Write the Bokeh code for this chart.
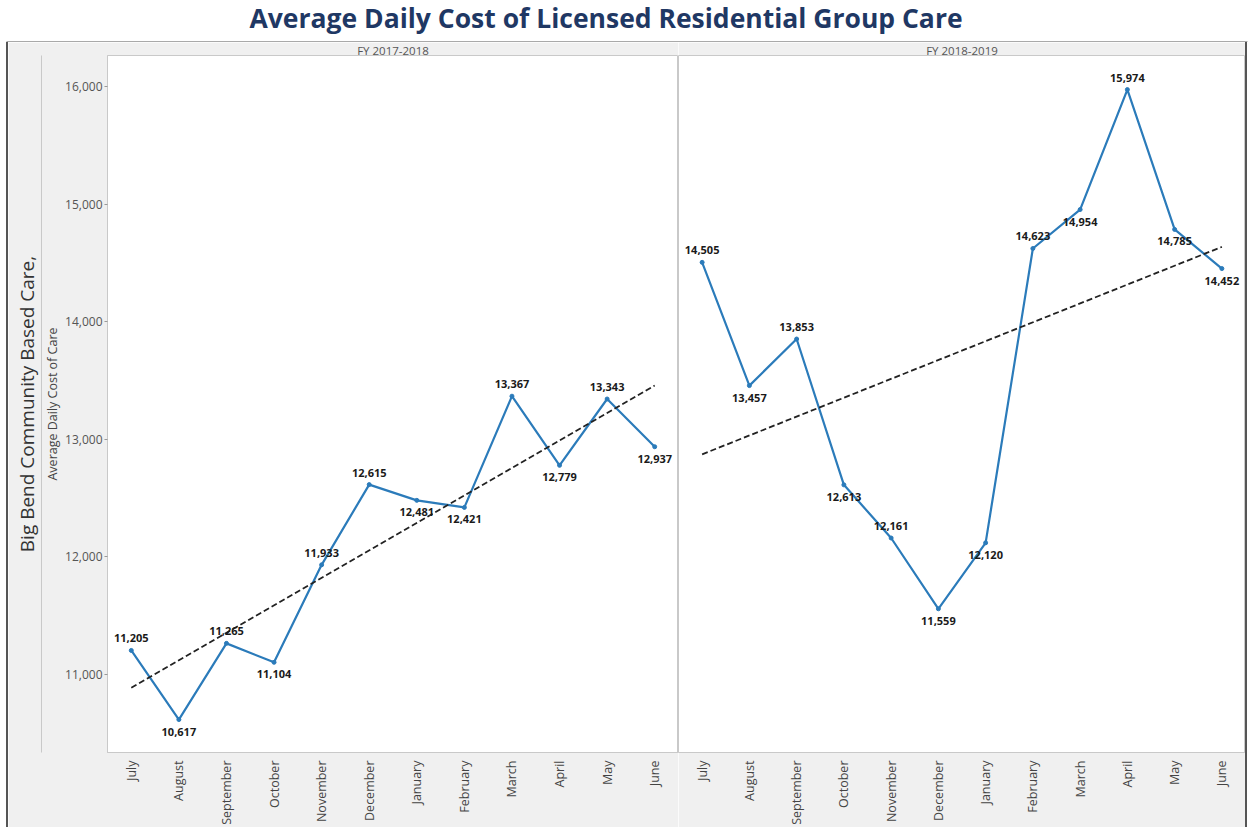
import numpy as np
from bokeh.plotting import figure
from bokeh.models import (Range1d, FactorRange, LinearAxis, FixedTicker,
                          NumeralTickFormatter, ColumnDataSource, Spacer)
from bokeh.layouts import column, row
from bokeh.embed import file_html
from bokeh.resources import INLINE
from bokeh.core.properties import value

# ---------------- data ----------------
title_text = "Average Daily Cost of Licensed Residential Group Care"
months = ["July", "August", "September", "October", "November", "December",
          "January", "February", "March", "April", "May", "June"]
fy_labels = ["FY 2017-2018", "FY 2018-2019"]
cost_fy1718 = [11205, 10617, 11265, 11104, 11933, 12615,
               12481, 12421, 13367, 12779, 13343, 12937]
cost_fy1819 = [14505, 13457, 13853, 12613, 12161, 11559,
               12120, 14623, 14954, 15974, 14785, 14452]
y_ticks = [11000, 12000, 13000, 14000, 15000, 16000]
y_label_outer = "Big Bend Community Based Care,"
y_label_inner = "Average Daily Cost of Care"

# label placement (1 = above the point, -1 = below)
place_1718 = [1, -1, 1, -1, 1, 1, -1, -1, 1, -1, 1, -1]
place_1819 = [1, -1, 1, -1, 1, -1, -1, 1, -1, 1, -1, -1]

# ---------------- style ----------------
FONT = "Open Sans"
GREY_BG = "#f0f0f0"
LINE_BLUE = "#2b7bba"
RULE = "#c9c9c9"
DARK = "#555555"
Y_START, Y_END = 10337, 16264
FIG_H = 785


def make_panel(vals, place, header, width, left_axis):
    p = figure(width=width, height=FIG_H, x_range=FactorRange(*months),
               y_range=Range1d(Y_START, Y_END), toolbar_location=None,
               output_backend="svg",
               min_border_top=13, min_border_bottom=75,
               min_border_left=99 if left_axis else 0,
               min_border_right=0)
    p.border_fill_color = GREY_BG
    p.background_fill_color = "white"
    p.outline_line_color = RULE
    p.grid.visible = False

    p.title.text = header
    p.title.align = "center"
    p.title.text_font = FONT
    p.title.text_font_size = "11.5px"
    p.title.text_font_style = "normal"
    p.title.text_color = "#555555"
    p.title.standoff = -4.5
    p.title.offset = 0

    xa = p.xaxis[0]
    xa.major_label_orientation = np.pi / 2
    xa.major_label_text_font = FONT
    xa.major_label_text_font_size = "12.5px"
    xa.major_label_text_color = "#444444"
    xa.major_tick_line_color = None
    xa.major_label_standoff = 2
    xa.axis_line_color = RULE

    ya = p.yaxis[0]
    if left_axis:
        ya.ticker = FixedTicker(ticks=y_ticks)
        ya.formatter = NumeralTickFormatter(format="0,0")
        ya.major_label_text_font = FONT
        ya.major_label_text_font_size = "12px"
        ya.major_label_text_color = "#555555"
        ya.major_tick_in = 0
        ya.major_tick_out = 3
        ya.major_tick_line_color = "#999999"
        ya.minor_tick_line_color = None
        ya.major_label_standoff = 2
        ya.axis_line_color = RULE
        ya.axis_label = y_label_inner
        ya.axis_label_text_font = FONT
        ya.axis_label_text_font_size = "12.5px"
        ya.axis_label_text_font_style = "normal"
        ya.axis_label_text_color = "#444444"
        ya.axis_label_standoff = 1

        outer = LinearAxis(ticker=FixedTicker(ticks=[]),
                           axis_label=y_label_outer)
        outer.major_tick_line_color = None
        outer.minor_tick_line_color = None
        outer.major_label_text_font_size = "0px"
        outer.axis_line_color = RULE
        outer.axis_label_text_font = FONT
        outer.axis_label_text_font_size = "19px"
        outer.axis_label_text_font_style = "normal"
        outer.axis_label_text_color = "#333333"
        outer.axis_label_standoff = 2
        p.add_layout(outer, "left")
    else:
        ya.visible = False

    labels = [f"{v:,}" for v in vals]
    offs = [-12 if s > 0 else 12 for s in place]
    src = ColumnDataSource(dict(x=months, y=vals, label=labels, off=offs))

    p.line("x", "y", source=src, line_color=LINE_BLUE, line_width=2.2)
    p.scatter("x", "y", source=src, size=4, color=LINE_BLUE)

    coef = np.polyfit(np.arange(len(vals)), vals, 1)
    trend = [float(np.polyval(coef, 0)), float(np.polyval(coef, len(vals) - 1))]
    p.line(x=[months[0], months[-1]], y=trend, line_color="#222222",
           line_width=1.8, line_dash="6 3")

    p.text("x", "y", text="label", source=src, y_offset="off",
           text_align="center", text_baseline="middle",
           text_font=value(FONT), text_font_size="11px",
           text_font_style="bold", text_color="#1a1a1a")
    return p


p1 = make_panel(cost_fy1718, place_1718, fy_labels[0], 670, True)
p2 = make_panel(cost_fy1819, place_1819, fy_labels[1], 567, False)

# title strip with the dark top rule of the chart frame
tfig = figure(width=1253, height=42, x_range=Range1d(0, 1),
              y_range=Range1d(0, 1), toolbar_location=None,
              output_backend="svg", min_border_left=6, min_border_right=6,
              min_border_top=0, min_border_bottom=0)
tfig.yaxis.visible = False
tfig.grid.visible = False
tfig.outline_line_color = None
tfig.background_fill_color = "white"
tfig.border_fill_color = "white"
txa = tfig.xaxis[0]
txa.ticker = FixedTicker(ticks=[])
txa.major_tick_line_color = None
txa.minor_tick_line_color = None
txa.major_label_text_font_size = "0px"
txa.axis_line_color = DARK
txa.axis_line_width = 2
tfig.title.text = title_text
tfig.title.align = "left"
tfig.title.offset = 243
tfig.title.vertical_align = "top"
tfig.title.text_font = FONT
tfig.title.text_font_size = "26.5px"
tfig.title.text_font_style = "bold"
tfig.title.text_color = "#1f3864"
tfig.title.standoff = -2

left_pad = Spacer(width=6, height=FIG_H)
left_rule = Spacer(width=2, height=FIG_H, styles={"background-color": DARK})
right_rule = Spacer(width=2, height=FIG_H, styles={"background-color": DARK})

layout = column(tfig, row(left_pad, left_rule, p1, p2, right_rule))
open("out.html", "w").write(file_html(layout, INLINE))
